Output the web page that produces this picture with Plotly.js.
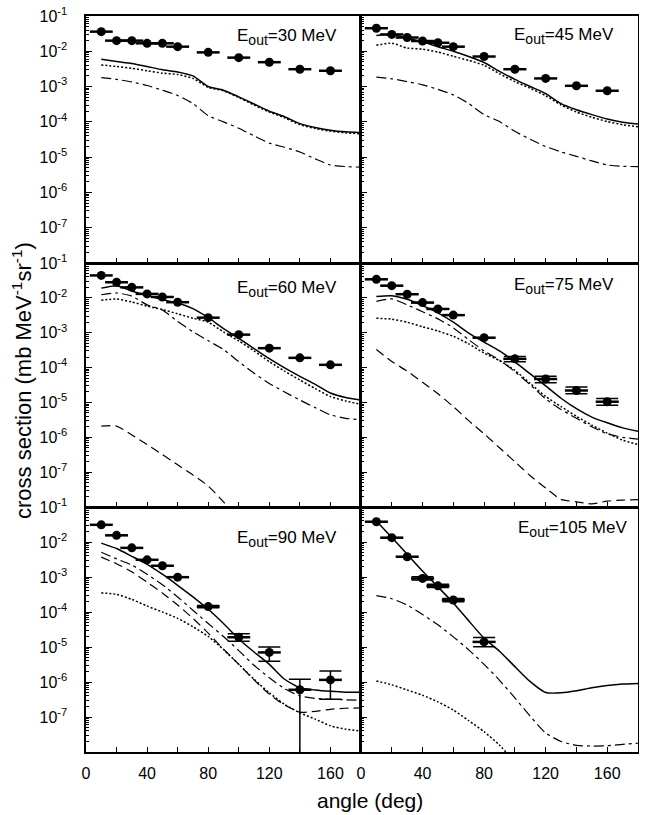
<!DOCTYPE html>
<html><head><meta charset="utf-8">
<script src="https://cdn.plot.ly/plotly-3.0.1.min.js"></script>
<style>html,body{margin:0;padding:0;background:#fff}#chart{width:646px;height:815px}</style>
</head><body><div id="chart"></div>
<script>
// ---------- data ----------
const pointAngles = [10,20,30,40,50,60,80,100,120,140,160];
const pointAngles105 = [10,20,30,40,50,60,80];
const curveAngles = [10,20,30,40,50,60,70,80,90,100,110,120,130,140,150,160,170,180];
const panelLabels = [
  'E<sub><span style="font-size:14px">out</span></sub>=30 MeV',
  'E<sub><span style="font-size:14px">out</span></sub>=45 MeV',
  'E<sub><span style="font-size:14px">out</span></sub>=60 MeV',
  'E<sub><span style="font-size:14px">out</span></sub>=75 MeV',
  'E<sub><span style="font-size:14px">out</span></sub>=90 MeV',
  'E<sub><span style="font-size:14px">out</span></sub>=105 MeV'];
const yTickVals = [1e-1,1e-2,1e-3,1e-4,1e-5,1e-6,1e-7];
const yTickText = ['10<sup>-1</sup>','10<sup>-2</sup>','10<sup>-3</sup>','10<sup>-4</sup>','10<sup>-5</sup>','10<sup>-6</sup>','10<sup>-7</sup>'];
const xTitle = 'angle (deg)';
const yTitle = 'cross section (mb MeV<sup>-1</sup>sr<sup>-1</sup>)';

// E_out = 30 MeV
const pts30 = [0.036,0.020,0.020,0.0168,0.0168,0.0135,0.0093,0.0066,0.0049,0.0031,0.0028];
const solid30 = [5.9e-3,5.1e-3,4.5e-3,3.7e-3,3.0e-3,2.6e-3,2.0e-3,1.0e-3,7.9e-4,5.1e-4,3.2e-4,2.0e-4,1.4e-4,8.9e-5,6.9e-5,5.8e-5,5.2e-5,4.9e-5];
const dotted30 = [4.1e-3,3.7e-3,3.3e-3,2.8e-3,2.4e-3,2.2e-3,1.7e-3,9.5e-4,7.6e-4,4.9e-4,3.0e-4,1.9e-4,1.3e-4,8.3e-5,6.5e-5,5.4e-5,4.9e-5,4.6e-5];
const dashdot30 = [1.8e-3,1.6e-3,1.35e-3,1.07e-3,7.9e-4,5.6e-4,3.3e-4,1.5e-4,1.0e-4,6.6e-5,4.0e-5,2.5e-5,1.9e-5,1.4e-5,8.9e-6,6.0e-6,5.4e-6,5.2e-6];

// E_out = 45 MeV
const pts45 = [0.045,0.030,0.0245,0.0195,0.0174,0.0135,0.0071,0.0031,0.0017,0.00105,0.00076];
const solid45 = [2.8e-2,3.0e-2,2.34e-2,1.86e-2,1.35e-2,1.0e-2,7.1e-3,4.8e-3,2.7e-3,1.6e-3,1.0e-3,6.3e-4,3.3e-4,2.2e-4,1.6e-4,1.2e-4,9.8e-5,8.7e-5];
const dotted45 = [1.48e-2,1.7e-2,1.23e-2,1.15e-2,9.5e-3,7.2e-3,5.5e-3,4.0e-3,2.3e-3,1.38e-3,8.9e-4,5.5e-4,3.0e-4,1.9e-4,1.35e-4,1.02e-4,8.3e-5,7.2e-5];
const dashdot45 = [1.86e-3,1.66e-3,1.38e-3,1.12e-3,8.3e-4,5.8e-4,3.3e-4,1.6e-4,1.02e-4,5.4e-5,3.2e-5,2.0e-5,1.41e-5,1.05e-5,7.8e-6,6.0e-6,5.5e-6,5.4e-6];

// E_out = 60 MeV
const pts60 = [0.044,0.028,0.020,0.0130,0.0106,0.0075,0.0027,0.00088,0.00036,0.00019,0.00012];
const solid60 = [1.9e-2,2.24e-2,1.58e-2,1.17e-2,8.9e-3,7.1e-3,4.9e-3,2.7e-3,1.32e-3,6.9e-4,3.5e-4,1.8e-4,9.8e-5,5.6e-5,3.3e-5,1.86e-5,1.38e-5,1.17e-5];
const dotted60 = [8.5e-3,9.3e-3,7.6e-3,5.8e-3,4.6e-3,3.5e-3,2.6e-3,2.0e-3,1.05e-3,5.8e-4,3.0e-4,1.48e-4,7.9e-5,4.4e-5,2.5e-5,1.48e-5,1.1e-5,8.9e-6];
const dashdot60 = [1.23e-2,1.38e-2,1.12e-2,6.3e-3,4.5e-3,2.1e-3,1.07e-3,5.9e-4,3.3e-4,1.48e-4,6.9e-5,3.5e-5,2.0e-5,1.17e-5,7.1e-6,4.4e-6,3.5e-6,3.2e-6];
const longdash60 = [2.1e-6,2.1e-6,1.17e-6,6.2e-7,3.2e-7,1.62e-7,8.3e-8,4.0e-8,1.4e-8,4.0e-9,null,null,null,null,null,null,null,null];

// E_out = 75 MeV
const pts75 = [0.034,0.0224,0.0127,0.0073,0.0048,0.0032,0.00072,0.000178,4.7e-5,2.2e-5,1.05e-5];
const errPlus75 = [0,0,0,0,0,0,0,3.0e-5,9.0e-6,5.5e-6,2.4e-6];
const errMinus75 = [0,0,0,0,0,0,0,3.0e-5,1.0e-5,4.2e-6,2.2e-6];
const solid75 = [1.1e-2,1.15e-2,9.1e-3,6.0e-3,3.7e-3,2.0e-3,9.8e-4,5.4e-4,3.0e-4,1.45e-4,6.6e-5,3.0e-5,1.32e-5,6.6e-6,3.8e-6,2.6e-6,1.86e-6,1.48e-6];
const dashdot75 = [7.9e-3,9.3e-3,6.3e-3,4.0e-3,2.5e-3,1.38e-3,6.3e-4,3.0e-4,1.66e-4,7.6e-5,3.2e-5,1.26e-5,6.3e-6,3.5e-6,2.0e-6,1.26e-6,1.0e-6,8.9e-7];
const dotted75 = [2.6e-3,2.45e-3,2.0e-3,1.48e-3,1.12e-3,7.9e-4,4.8e-4,2.6e-4,1.58e-4,8.3e-5,3.5e-5,1.48e-5,7.6e-6,4.0e-6,2.24e-6,1.32e-6,8.3e-7,6.2e-7];
const longdash75 = [3.3e-4,1.5e-4,7.9e-5,3.8e-5,1.78e-5,7.6e-6,3.0e-6,1.26e-6,5.0e-7,2.0e-7,7.9e-8,3.5e-8,1.66e-8,1.41e-8,1.23e-8,1.48e-8,1.58e-8,1.62e-8];

// E_out = 90 MeV
const pts90 = [0.031,0.0155,0.0068,0.0031,0.0021,0.00099,1.43e-4,1.9e-5,7.0e-6,6.0e-7,1.15e-6];
const errPlus90 = [0,0,0,0,0,0,1.0e-5,5.0e-6,3.0e-6,6.0e-7,9.0e-7];
const errMinus90 = [0,0,0,0,0,0,1.0e-5,4.5e-6,3.1e-6,6.0e-7,8.3e-7];
const solid90 = [9.3e-3,6.5e-3,3.9e-3,2.3e-3,1.2e-3,5.8e-4,2.7e-4,1.2e-4,4.7e-5,1.7e-5,7.2e-6,3.2e-6,1.2e-6,6.9e-7,5.9e-7,5.4e-7,5.1e-7,5.1e-7];
const dashdot90 = [5.1e-3,3.3e-3,2.2e-3,1.2e-3,6.0e-4,2.7e-4,1.12e-4,4.7e-5,2.0e-5,7.9e-6,3.0e-6,1.32e-6,6.5e-7,4.0e-7,3.4e-7,3.2e-7,3.1e-7,3.0e-7];
const longdash90 = [3.7e-3,2.4e-3,1.41e-3,7.1e-4,3.5e-4,1.58e-4,6.6e-5,2.5e-5,8.7e-6,3.2e-6,1.15e-6,4.5e-7,2.2e-7,1.38e-7,1.45e-7,1.66e-7,1.78e-7,1.82e-7];
const dotted90 = [3.5e-4,3.2e-4,2.3e-4,1.48e-4,1.0e-4,6.6e-5,3.8e-5,2.0e-5,8.5e-6,3.2e-6,1.2e-6,4.9e-7,2.3e-7,1.32e-7,8.7e-8,5.6e-8,4.5e-8,4.0e-8];

// E_out = 105 MeV
const pts105 = [0.038,0.0133,0.0038,0.00091,0.00056,0.00022,1.4e-5];
const errPlus105 = [0,0,0,1.1e-4,6.0e-5,2.5e-5,4.6e-6];
const errMinus105 = [0,0,0,9.0e-5,6.0e-5,2.5e-5,3.8e-6];
const solid105 = [3.98e-2,1.35e-2,4.5e-3,1.48e-3,5.2e-4,1.82e-4,5.6e-5,1.78e-5,7.6e-6,2.75e-6,1.02e-6,5.0e-7,4.9e-7,5.6e-7,6.8e-7,7.9e-7,8.7e-7,9.1e-7];
const dashdot105 = [2.95e-4,2.4e-4,1.58e-4,8.5e-5,4.3e-5,1.95e-5,8.3e-6,3.2e-6,1.12e-6,3.5e-7,1.05e-7,3.5e-8,2.0e-8,1.55e-8,1.48e-8,1.51e-8,1.66e-8,1.78e-8];
const dotted105 = [1.07e-6,8.3e-7,5.9e-7,4.2e-7,2.7e-7,1.58e-7,7.9e-8,3.8e-8,1.58e-8,5.0e-9,null,null,null,null,null,null,null,null];

// ---------- styles ----------
const lineStyles = {
  solid:   {color:'#000', width:1.5, dash:'solid'},
  dotted:  {color:'#000', width:1.5, dash:'2px,2px'},
  dashdot: {color:'#000', width:1.2, dash:'10px,4px,3px,4px'},
  longdash:{color:'#000', width:1.2, dash:'9px,5px'}
};
const FONT = 'Liberation Sans, Arial, Helvetica, sans-serif';

const panels = [
  {x:pointAngles, y:pts30, curves:[['dashdot',dashdot30],['dotted',dotted30],['solid',solid30]]},
  {x:pointAngles, y:pts45, curves:[['dashdot',dashdot45],['dotted',dotted45],['solid',solid45]]},
  {x:pointAngles, y:pts60, curves:[['longdash',longdash60],['dashdot',dashdot60],['dotted',dotted60],['solid',solid60]]},
  {x:pointAngles, y:pts75, ep:errPlus75, em:errMinus75, curves:[['longdash',longdash75],['dashdot',dashdot75],['dotted',dotted75],['solid',solid75]]},
  {x:pointAngles, y:pts90, ep:errPlus90, em:errMinus90, curves:[['longdash',longdash90],['dashdot',dashdot90],['dotted',dotted90],['solid',solid90]]},
  {x:pointAngles105, y:pts105, ep:errPlus105, em:errMinus105, curves:[['dashdot',dashdot105],['dotted',dotted105],['solid',solid105]]}
];

const xDomains = [[0.1331,0.5588],[0.5588,0.9876]];
const yDomains = [[0.6773,0.9804],[0.3779,0.6773],[0.0773,0.3779]];
// label positions (paper px): right edge x, center y
const labelPos = [[339,37],[616,36],[339,289],[616,286],[339,539],[629,529]];

const minorY = [];
for (let d=-8; d<=-2; d++) for (let m=2; m<=9; m++) minorY.push(m*Math.pow(10,d));

const traces = [];
const layout = {
  width:646, height:815, margin:{l:0,r:0,t:0,b:0},
  paper_bgcolor:'#fff', plot_bgcolor:'#fff', showlegend:false,
  font:{family:FONT, color:'#000'},
  annotations:[]
};

panels.forEach((p,i)=>{
  const n = i+1;
  const xa = n===1?'x':'x'+n, ya = n===1?'y':'y'+n;
  const col = i%2, row = Math.floor(i/2);
  p.curves.forEach(([style,vals])=>{
    traces.push({type:'scatter', mode:'lines', x:curveAngles, y:vals, xaxis:xa, yaxis:ya,
      line:Object.assign({shape:'spline', smoothing:0.6}, lineStyles[style]), hoverinfo:'skip', connectgaps:false});
  });
  const tr = {type:'scatter', mode:'markers', x:p.x, y:p.y, xaxis:xa, yaxis:ya,
    marker:{symbol:'circle', size:9, color:'#000'},
    error_x:{type:'constant', value:7.5, width:0, thickness:2.5, color:'#000'}};
  if (p.ep) tr.error_y = {type:'data', symmetric:false, array:p.ep, arrayminus:p.em, width:11, thickness:1.5, color:'#000'};
  traces.push(tr);

  layout[n===1?'xaxis':'xaxis'+n] = {
    domain:xDomains[col], anchor:ya, range:[0,180], type:'linear',
    tick0:0, dtick:40, ticks:'inside', ticklen:5, tickwidth:1, tickcolor:'#000',
    minor:{dtick:20, ticks:'inside', ticklen:5, tickwidth:1, tickcolor:'#000'},
    showline:true, linewidth:1.5, linecolor:'#000', mirror:true,
    showgrid:false, zeroline:false,
    showticklabels: row===2, tickfont:{family:FONT, size:16, color:'#000'}, ticklabelstandoff:6
  };
  layout[n===1?'yaxis':'yaxis'+n] = {
    domain:yDomains[row], anchor:xa, type:'log', range:[-8,-1],
    tickmode:'array', tickvals:yTickVals, ticktext:yTickText,
    ticks:'inside', ticklen:6, tickwidth:1, tickcolor:'#000',
    minor:{tickmode:'array', tickvals:minorY, ticks:'inside', ticklen:3, tickwidth:1, tickcolor:'#000'},
    showline:true, linewidth:1.5, linecolor:'#000', mirror:true,
    showgrid:false, zeroline:false,
    showticklabels: col===0, tickfont:{family:FONT, size:16, color:'#000'}, ticklabelstandoff:14
  };
  layout.annotations.push({xref:'paper', yref:'paper', x:labelPos[i][0]/646, y:1-labelPos[i][1]/815,
    xanchor:'right', yanchor:'middle', showarrow:false, text:panelLabels[i],
    font:{family:FONT, size:17, color:'#000'}});
});

layout.annotations.push({xref:'paper', yref:'paper', x:370/646, y:1-800/815, xanchor:'center', yanchor:'middle',
  showarrow:false, text:xTitle, font:{family:FONT, size:21, color:'#000'}});
layout.annotations.push({xref:'paper', yref:'paper', x:22/646, y:1-381/815, xanchor:'center', yanchor:'middle',
  showarrow:false, textangle:-90, text:yTitle, font:{family:FONT, size:22, color:'#000'}});

Plotly.newPlot('chart', traces, layout, {staticPlot:true, displayModeBar:false});
</script></body></html>
